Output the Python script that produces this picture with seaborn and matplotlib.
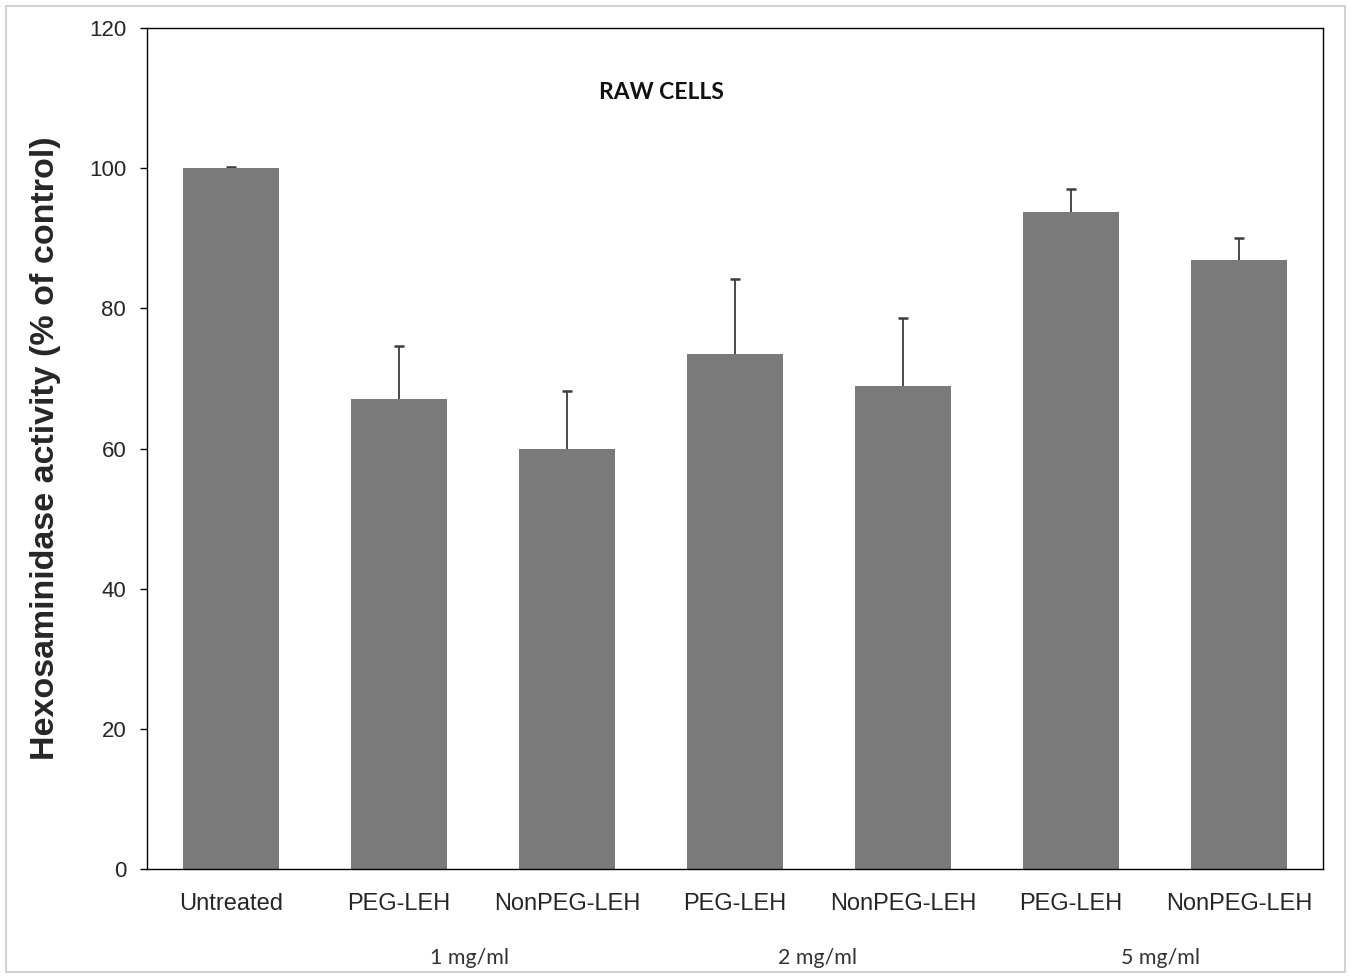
import matplotlib
matplotlib.use("Agg")
import matplotlib.pyplot as plt
import seaborn as sns
import pandas as pd
from matplotlib.patches import Rectangle

groups = ["Untreated", "PEG-LEH 1", "NonPEG-LEH 1", "PEG-LEH 2", "NonPEG-LEH 2", "PEG-LEH 5", "NonPEG-LEH 5"]
tick_labels = ["Untreated", "PEG-LEH", "NonPEG-LEH", "PEG-LEH", "NonPEG-LEH", "PEG-LEH", "NonPEG-LEH"]
values = [100.0, 67.0, 60.0, 73.5, 68.9, 93.7, 86.9]
errors = [0.1, 7.6, 8.2, 10.7, 9.7, 3.3, 3.2]
dose_labels = ["1 mg/ml", "2 mg/ml", "5 mg/ml"]
dose_x = [1.42, 3.49, 5.53]

sns.set_theme(style="white")
plt.rcParams['font.family'] = ['Liberation Sans', 'DejaVu Sans']

df = pd.DataFrame({"group": groups, "value": values})

fig = plt.figure(figsize=(13.51, 9.77), dpi=100)
ax = fig.add_axes([147/1351, 1 - 869/977, (1323-147)/1351, (869-28)/977])

sns.barplot(data=df, x="group", y="value", order=groups, color="#7a7a7a",
            saturation=1, width=0.57, errorbar=None, ax=ax, edgecolor="none", zorder=2)
ax.errorbar(range(len(groups)), values, yerr=errors, fmt="none",
            ecolor="#3c3c3c", elinewidth=1.3, capsize=3.8, capthick=1.8, zorder=1)

ax.set_xlim(-0.5, len(groups) - 0.5)
ax.set_ylim(0, 120)
ax.set_yticks([0, 20, 40, 60, 80, 100, 120])
ax.tick_params(axis="y", labelsize=16, left=True, length=5, width=1, color="black", pad=10)
ax.tick_params(axis="x", labelsize=17, bottom=False, pad=11)
ax.set_xticks(range(len(groups)))
ax.set_xticklabels(tick_labels)
ax.set_xlabel("")
ax.set_ylabel("Hexosaminidase activity (% of control)", fontsize=24.5, fontweight="bold", labelpad=20)
for s in ax.spines.values():
    s.set_visible(True)
    s.set_color("black")
    s.set_linewidth(1.0)

ax.text(2.56, 110.8, "RAW CELLS", ha="center", va="center", fontsize=16.5,
        fontweight="bold", family=["Lato", "DejaVu Sans"], color="#111111")

for xc, lab in zip(dose_x, dose_labels):
    ax.text(xc, -12.7, lab, ha="center", va="center", fontsize=15.4,
            family=["Lato", "DejaVu Sans"], color="#333333", clip_on=False)

fig.patches.append(Rectangle((6/1351, 5/977), 1 - 12/1351, 1 - 11/977, transform=fig.transFigure,
                             fill=False, edgecolor="#c8c8c8", linewidth=1.2))

fig.savefig("out.png", dpi=100)
